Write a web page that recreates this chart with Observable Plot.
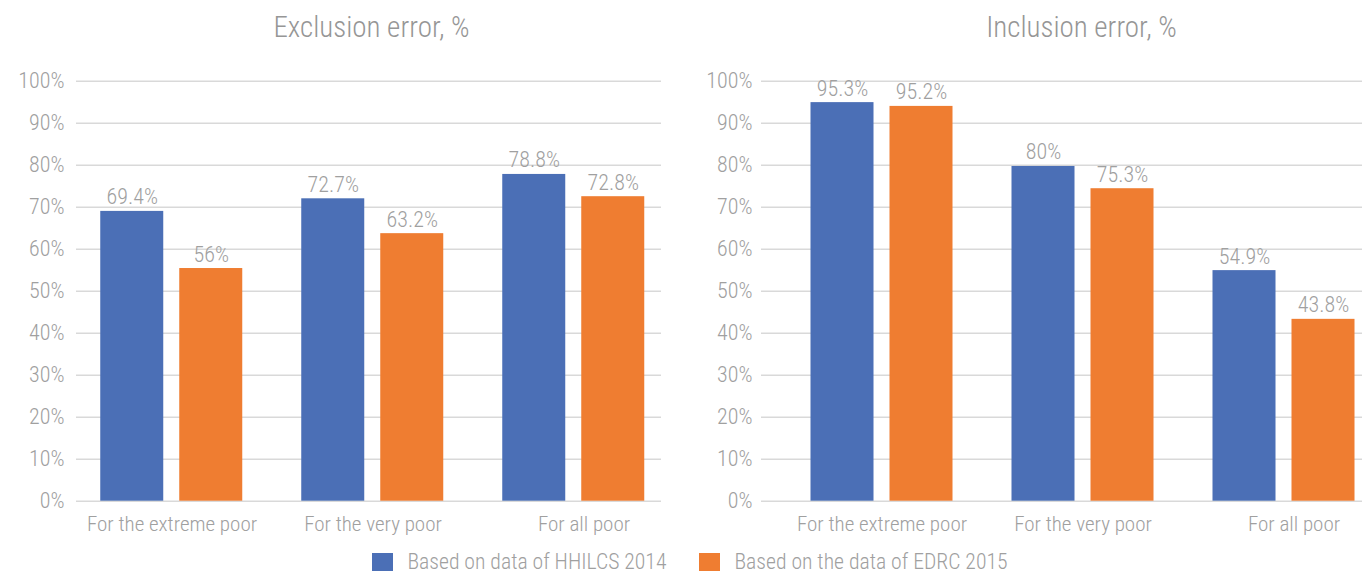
<!DOCTYPE html>
<html>
<head>
<meta charset="utf-8">
<script src="https://cdn.jsdelivr.net/npm/d3@7"></script>
<script src="https://cdn.jsdelivr.net/npm/@observablehq/plot@0.6"></script>
<style>
  html, body { margin: 0; padding: 0; background: #fff; }
  #root { position: relative; width: 1362px; height: 574px; overflow: hidden;
          font-family: "Roboto Condensed", "Liberation Sans Narrow", "DejaVu Sans Condensed", "Arial Narrow", sans-serif; font-weight: 300; color: #a0a0a0; }
  .title { position: absolute; top: 10px; font-size: 29px; color: #969696; text-align: center; width: 681px; }
  .panel { position: absolute; top: 60px; }
  .legend { position: absolute; top: 550px; left: 9px; width: 1362px; height: 24px; line-height: 24px; display: flex; justify-content: center; font-size: 21.7px; color: #a0a0a0; }
  .legend .item { display: flex; align-items: center; margin: 0 16.5px; }
  .legend .sw { width: 21px; height: 18px; margin-right: 14px; display: inline-block; }
</style>
</head>
<body>
<div id="root"></div>
<script>
// ---- data ----
const categories = ["For the extreme poor", "For the very poor", "For all poor"];
const series = ["Based on data of HHILCS 2014", "Based on the data of EDRC 2015"];
const colors = ["#4b6fb6", "#ef7d31"];
const yTicks = [0, 10, 20, 30, 40, 50, 60, 70, 80, 90, 100];

const exclusionTitle = "Exclusion error, %";
const exclusionHH = [69.0, 72.0, 77.8];
const exclusionED = [55.4, 63.7, 72.5];
const exclusionHHLabels = ["69.4%", "72.7%", "78.8%"];
const exclusionEDLabels = ["56%", "63.2%", "72.8%"];

const inclusionTitle = "Inclusion error, %";
const inclusionHH = [94.9, 79.7, 54.9];
const inclusionED = [94.0, 74.4, 43.3];
const inclusionHHLabels = ["95.3%", "80%", "54.9%"];
const inclusionEDLabels = ["95.2%", "75.3%", "43.8%"];

function rows(hh, ed, hhL, edL) {
  const out = [];
  categories.forEach((c, i) => {
    out.push({category: c, series: series[0], value: hh[i], label: hhL[i]});
    out.push({category: c, series: series[1], value: ed[i], label: edL[i]});
  });
  return out;
}

const FONT = '"Roboto Condensed", "Liberation Sans Narrow", "DejaVu Sans Condensed", "Arial Narrow", sans-serif';
const common = {
  width: 681,
  height: 480,
  marginTop: 20.7,
  marginBottom: 39.3,
  style: {fontFamily: FONT, fontWeight: 300, fontSize: "21px", color: "#a0a0a0", background: "transparent", overflow: "visible"},
  y: {domain: [0, 100], label: null}
};

function background(opts) {
  return Plot.plot({
    ...common,
    marginLeft: opts.marginLeft,
    marginRight: opts.marginRight,
    marks: [
      Plot.gridY(yTicks, {stroke: "#d9d9d9", strokeOpacity: 1, strokeWidth: 1.6}),
      Plot.axisY(yTicks, {tickSize: 0, tickPadding: opts.tickPadding, tickFormat: d => d + "%", fill: "#a0a0a0", fontSize: 22})
    ]
  });
}

function foreground(data, opts) {
  const catLabel = {fx: d => d, text: d => d, frameAnchor: "bottom", lineAnchor: "top", dy: 15, fill: "#a0a0a0", fontSize: 21};
  return Plot.plot({
    ...common,
    marginLeft: opts.fxRange[0],
    marginRight: 0,
    y: {domain: [0, 100], axis: null},
    fx: {domain: categories, range: opts.fxRange, paddingInner: 0, paddingOuter: 0, label: null, axis: null},
    x: {domain: series, paddingInner: 0.2, paddingOuter: 0.358, axis: null},
    color: {domain: series, range: colors},
    marks: [
      Plot.text(categories.slice(0, 2), catLabel),
      Plot.text(categories.slice(2), {...catLabel, dx: 10}),
      Plot.barY(data, {fx: "category", x: "series", y: "value", fill: "series"}),
      Plot.text(data, {fx: "category", x: "series", y: "value", text: "label", dy: -7, lineAnchor: "bottom", fill: "#a0a0a0", fontSize: 22})
    ]
  });
}

const root = document.getElementById("root");

function addTitle(text, center) {
  const t = document.createElement("div");
  t.className = "title";
  t.textContent = text;
  t.style.left = (center - 340.5) + "px";
  root.appendChild(t);
}
addTitle(exclusionTitle, 371.5);
addTitle(inclusionTitle, 1081.5);

function place(el, left) {
  el.classList.add("panel");
  el.style.left = left + "px";
  root.appendChild(el);
}

place(background({marginLeft: 76, marginRight: 20, tickPadding: 12}), 0);
place(foreground(rows(exclusionHH, exclusionED, exclusionHHLabels, exclusionEDLabels), {fxRange: [70.75, 674.5]}), 0);
place(background({marginLeft: 80, marginRight: 0, tickPadding: 9}), 681);
place(foreground(rows(inclusionHH, inclusionED, inclusionHHLabels, inclusionEDLabels), {fxRange: [99.5, 702.5]}), 681);

const legend = document.createElement("div");
legend.className = "legend";
series.forEach((s, i) => {
  const item = document.createElement("div");
  item.className = "item";
  const sw = document.createElement("span");
  sw.className = "sw";
  sw.style.background = colors[i];
  const lab = document.createElement("span");
  lab.textContent = s;
  item.appendChild(sw);
  item.appendChild(lab);
  legend.appendChild(item);
});
root.appendChild(legend);
</script>
</body>
</html>
